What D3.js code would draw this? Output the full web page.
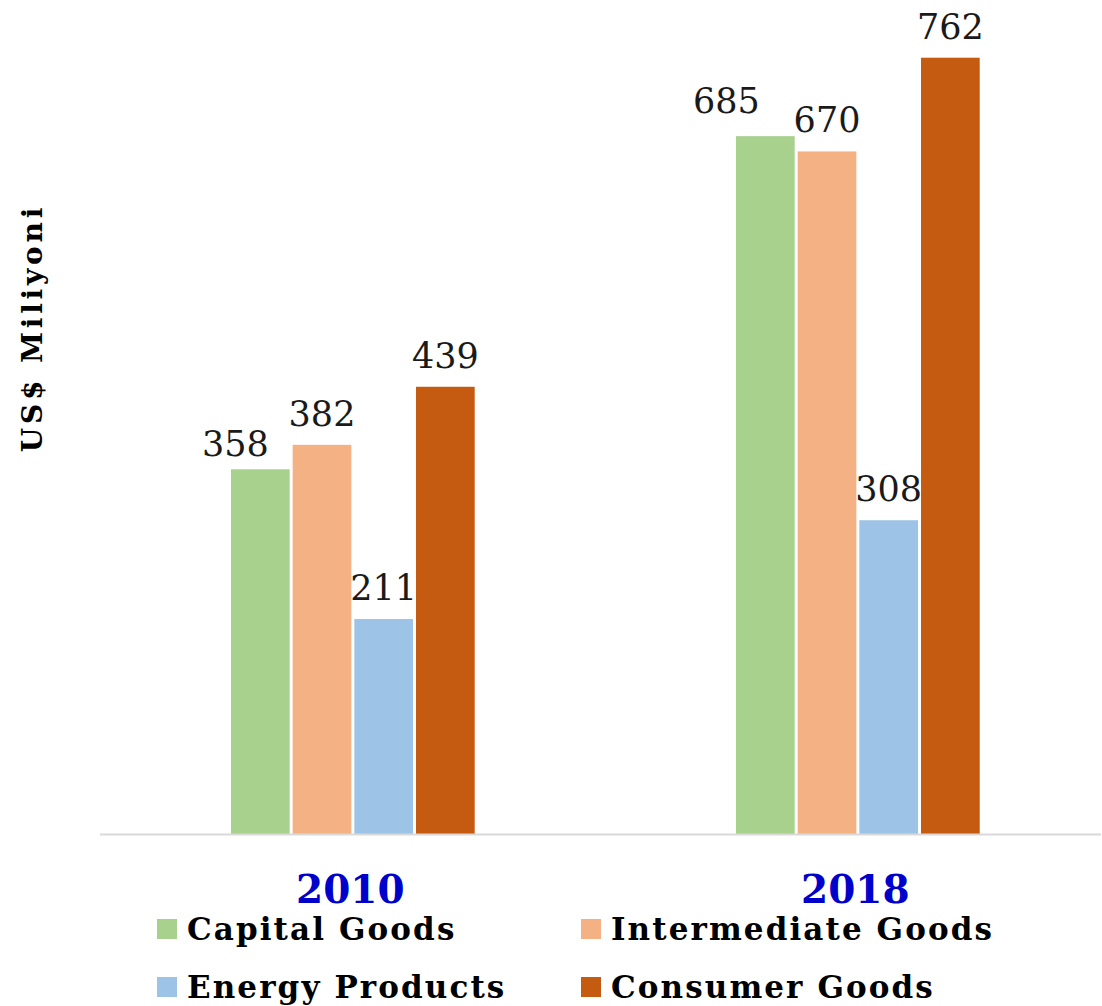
<!DOCTYPE html>
<html>
<head>
<meta charset="utf-8">
<script src="https://cdn.jsdelivr.net/npm/d3@7"></script>
<style>
  html, body { margin: 0; padding: 0; background: #ffffff; }
  svg { display: block; }
</style>
</head>
<body>
<svg id="chart" width="1102" height="1006"></svg>
<script>
const years = ["2010", "2018"];
const seriesNames = ["Capital Goods", "Intermediate Goods", "Energy Products", "Consumer Goods"];
const capitalGoods = [358, 685];
const intermediateGoods = [382, 670];
const energyProducts = [211, 308];
const consumerGoods = [439, 762];
const yAxisTitle = "US$ Miliyoni";

const seriesValues = [capitalGoods, intermediateGoods, energyProducts, consumerGoods];
const colors = ["#A9D18E", "#F4B183", "#9DC3E6", "#C55A11"];

const svg = d3.select("#chart");
const baseY = 834;

const x0 = d3.scaleBand().domain(years).range([100, 1113.7]).paddingInner(0.5115).paddingOuter(0.2594);
const x1 = d3.scaleBand().domain(seriesNames).range([0, x0.bandwidth()]).padding(0);
const y = d3.scaleLinear().domain([0, 800]).range([baseY, 19]);

// data table
const rows = [];
years.forEach((yr, i) => {
  seriesNames.forEach((s, j) => {
    rows.push({ year: yr, series: s, value: seriesValues[j][i], si: j, yi: i });
  });
});

// bars
svg.append("g").selectAll("rect").data(rows).join("rect")
  .attr("x", d => x0(d.year) + x1(d.series))
  .attr("width", x1.bandwidth() - 3)
  .attr("y", d => y(d.value))
  .attr("height", d => baseY - y(d.value))
  .attr("fill", d => colors[d.si]);

// axis line
svg.append("line")
  .attr("x1", 100).attr("x2", 1101)
  .attr("y1", baseY + 0.5).attr("y2", baseY + 0.5)
  .attr("stroke", "#d9d9d9").attr("stroke-width", 2);

// value labels (Capital Goods labels nudged left as in the original)
const nudge = { "2010|Capital Goods": [-25, 6], "2018|Capital Goods": [-39, -4] };
svg.append("g").selectAll("text").data(rows).join("text")
  .attr("x", d => x0(d.year) + x1(d.series) + (x1.bandwidth() - 3) / 2 + ((nudge[d.year + "|" + d.series] || [0, 0])[0]))
  .attr("y", d => y(d.value) - 19 + ((nudge[d.year + "|" + d.series] || [0, 0])[1]))
  .attr("text-anchor", "middle")
  .attr("font-family", "DejaVu Serif")
  .attr("font-size", 35)
  .attr("fill", "#1a1a1a")
  .text(d => d.value);

// year labels
svg.append("g").selectAll("text").data(years).join("text")
  .attr("x", d => x0(d) + x0.bandwidth() / 2 - 4)
  .attr("y", 903)
  .attr("text-anchor", "middle")
  .attr("font-family", "DejaVu Serif")
  .attr("font-weight", "bold")
  .attr("font-size", 39)
  .attr("fill", "#0000CC")
  .text(d => d);

// y axis title
svg.append("text")
  .attr("transform", "translate(42,328) rotate(-90)")
  .attr("text-anchor", "middle")
  .attr("font-family", "DejaVu Serif")
  .attr("font-weight", "bold")
  .attr("font-size", 28)
  .attr("letter-spacing", 3.8)
  .attr("fill", "#000")
  .text(yAxisTitle);

// legend
const legendPos = [[157, 929], [581, 929], [157, 987], [581, 987]];
const lg = svg.append("g").selectAll("g").data(seriesNames).join("g")
  .attr("transform", (d, i) => `translate(${legendPos[i][0]},${legendPos[i][1]})`);
lg.append("rect").attr("x", 0).attr("y", -10).attr("width", 20).attr("height", 20)
  .attr("fill", (d, i) => colors[i]);
lg.append("text").attr("x", 30).attr("y", 11)
  .attr("font-family", "DejaVu Serif")
  .attr("font-weight", "bold")
  .attr("font-size", 31)
  .attr("letter-spacing", 2.1)
  .attr("fill", "#000")
  .text(d => d);
</script>
</body>
</html>
